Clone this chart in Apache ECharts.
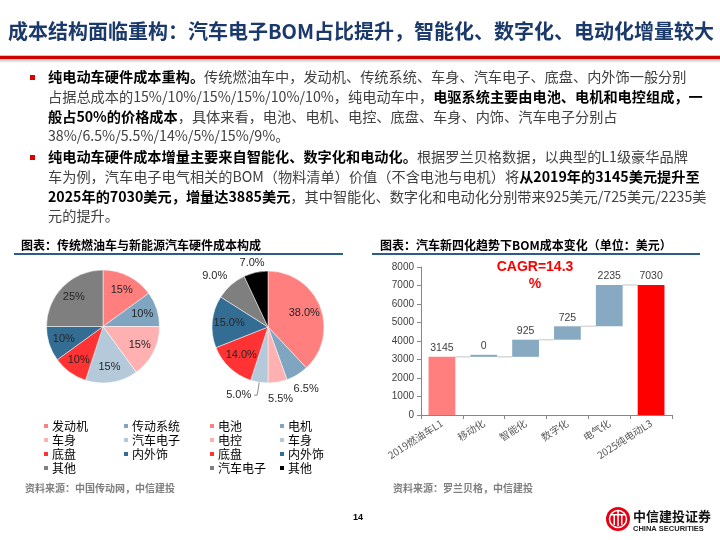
<!DOCTYPE html>
<html><head><meta charset="utf-8">
<script src="https://cdn.jsdelivr.net/npm/echarts@6/dist/echarts.min.js"></script>
<style>html,body{margin:0;padding:0;background:#fff}#c{width:720px;height:540px}</style>
</head><body><div id="c"></div>
<script>
// ---------- data ----------
const pageTitle = '成本结构面临重构：汽车电子BOM占比提升，智能化、数字化、电动化增量较大';
const pie1Names = ['发动机','传动系统','车身','汽车电子','底盘','内外饰','其他'];
const pie1Values = [15,10,15,15,10,10,25];
const pie2Names = ['电池','电机','电控','车身','底盘','内外饰','汽车电子','其他'];
const pie2Values = [38,6.5,5.5,5,14,15,9,7];
const wfCategories = ['2019燃油车L1','移动化','智能化','数字化','电气化','2025纯电动L3'];
const wfStart = 3145;
const wfIncrements = [0,925,725,2235];
const wfEnd = 7030;
const cagrText = 'CAGR=14.3';
const yMax = 8000, yInterval = 1000;

// ---------- styles ----------
const CJK = '"Noto Sans CJK SC", sans-serif';
const ARIAL = '"Liberation Sans", Arial, sans-serif';
const pie1Colors = ['#FF7F7F','#7FA5C1','#FFB1B1','#B4C9DA','#FF3333','#336D93','#7F7F7F'];
const pie2Colors = ['#FF7F7F','#7FA5C1','#FFB1B1','#B4C9DA','#FF3333','#336D93','#7F7F7F','#000000'];
const pie2LabelMode = ['in','ring','ring','lead','in','in','ring','ring'];
const ringLabelNudge = {6:{dx:-5, dy:4}, 7:{dx:0, dy:7}};

// ---------- waterfall derived stacks ----------
const wfBaseData = ['-'], wfIncData = ['-'], wfLevels = [wfStart];
let lvl = wfStart;
wfIncrements.forEach(v => { wfBaseData.push(lvl); wfIncData.push(v); lvl += v; wfLevels.push(lvl); });
wfBaseData.push('-'); wfIncData.push('-');
const wfTotalData = wfCategories.map((c,i) => i === 0 ? wfStart : (i === wfCategories.length-1 ? wfEnd : '-'));

const chart = echarts.init(document.getElementById('c'), null, {renderer:'canvas'});

function legendCol(left, names, colors, idx) {
  return {
    orient:'vertical', left:left, top:420, padding:0, itemWidth:6, itemHeight:6, itemGap:2,
    icon:'rect', selectedMode:false,
    textStyle:{fontSize:12, color:'#000', fontFamily:CJK, lineHeight:12, padding:[0,0,0,-2]},
    data: idx.map(i => ({name:names[i], itemStyle:{color:colors[i]}}))
  };
}

const labelBase = {color:'#262626', fontSize:11, fontFamily:ARIAL};

const bodyRich = {
  n:{fontSize:14.2, fontFamily:CJK, fill:'#404040'},
  b:{fontSize:14.2, fontFamily:CJK, fontWeight:'bold', fill:'#000'}
};
const bodyLines = [
  [77,'{b|纯电动车硬件成本重构。}{n|传统燃油车中，发动机、传统系统、车身、汽车电子、底盘、内外饰一般分别}'],
  [97,'{n|占据总成本的15%/10%/15%/15%/10%/10%，纯电动车中，}{b|电驱系统主要由电池、电机和电控组成，一}'],
  [117,'{b|般占50%的价格成本}{n|，具体来看，电池、电机、电控、底盘、车身、内饰、汽车电子分别占}'],
  [136,'{n|38%/6.5%/5.5%/14%/5%/15%/9%。}'],
  [157,'{b|纯电动车硬件成本增量主要来自智能化、数字化和电动化。}{n|根据罗兰贝格数据，以典型的L1级豪华品牌}'],
  [177,'{n|车为例，汽车电子电气相关的BOM（物料清单）价值（不含电池与电机）将}{b|从2019年的3145美元提升至}'],
  [197,'{b|2025年的7030美元，增量达3885美元}{n|，其中智能化、数字化和电动化分别带来925美元/725美元/2235美}'],
  [216,'{n|元的提升。}']
];

const graphics = [
  {type:'text', x:8, y:31, style:{text:pageTitle, font:'bold 20px '+CJK, fill:'#1B3A6B', verticalAlign:'middle', textVerticalAlign:'middle'}},
  {type:'rect', shape:{x:0, y:55, width:720, height:1}, style:{fill:'#C8C8C8'}},
  {type:'rect', shape:{x:0, y:56, width:720, height:3}, style:{fill:'#D00000'}},
  {type:'rect', shape:{x:0, y:59, width:720, height:4}, style:{fill:new echarts.graphic.LinearGradient(0,0,0,1,[{offset:0,color:'#BDBDBD'},{offset:1,color:'#FFFFFF'}])}},
  {type:'rect', shape:{x:30, y:75, width:5, height:5}, style:{fill:'#E00000'}},
  {type:'rect', shape:{x:30, y:155, width:5, height:5}, style:{fill:'#E00000'}},
  // section titles
  {type:'text', x:21, y:245, style:{text:'图表：传统燃油车与新能源汽车硬件成本构成', font:'bold 12px '+CJK, fill:'#000', verticalAlign:'middle', textVerticalAlign:'middle'}},
  {type:'rect', shape:{x:14, y:253, width:329, height:2}, style:{fill:'#2B5C8A'}},
  {type:'text', x:380, y:245, style:{text:'图表：汽车新四化趋势下BOM成本变化（单位：美元）', font:'bold 12px '+CJK, fill:'#000', verticalAlign:'middle', textVerticalAlign:'middle'}},
  {type:'rect', shape:{x:372, y:253, width:328, height:2}, style:{fill:'#2B5C8A'}},
  // CAGR
  {type:'text', x:535, y:267, style:{text:cagrText, font:'bold 14px '+ARIAL, fill:'#FF0000', align:'center', textAlign:'center', verticalAlign:'middle', textVerticalAlign:'middle'}},
  {type:'text', x:535, y:284, style:{text:'%', font:'bold 14px '+ARIAL, fill:'#FF0000', align:'center', textAlign:'center', verticalAlign:'middle', textVerticalAlign:'middle'}},
  // sources
  {type:'text', x:25, y:488, style:{text:'资料来源：中国传动网，中信建投', font:'bold 10px '+CJK, fill:'#7F7F7F', verticalAlign:'middle', textVerticalAlign:'middle'}},
  {type:'text', x:393, y:488, style:{text:'资料来源：罗兰贝格，中信建投', font:'bold 10px '+CJK, fill:'#7F7F7F', verticalAlign:'middle', textVerticalAlign:'middle'}},
  // page number
  {type:'text', x:358, y:518, style:{text:'14', font:'bold 9px '+ARIAL, fill:'#000', align:'center', textAlign:'center', verticalAlign:'middle', textVerticalAlign:'middle'}},
  // logo
  {type:'circle', shape:{cx:618, cy:519, r:12}, style:{fill:'#E60012'}},
  {type:'circle', shape:{cx:618, cy:519, r:8.5}, style:{fill:'none', stroke:'#fff', lineWidth:1.5}},
  {type:'rect', shape:{x:610, y:514, width:16, height:1.5}, style:{fill:'#fff'}},
  {type:'rect', shape:{x:613.5, y:514, width:1.5, height:11}, style:{fill:'#fff'}},
  {type:'rect', shape:{x:617.3, y:511, width:1.5, height:15}, style:{fill:'#fff'}},
  {type:'rect', shape:{x:621, y:514, width:1.5, height:11}, style:{fill:'#fff'}},
  {type:'text', x:633, y:516, style:{text:'中信建投证券', font:'bold 13px '+CJK, fill:'#111', verticalAlign:'middle', textVerticalAlign:'middle'}},
  {type:'text', x:633, y:529, style:{text:'CHINA SECURITIES', font:'bold 7.5px '+ARIAL, fill:'#222', verticalAlign:'middle', textVerticalAlign:'middle'}}
];
bodyLines.forEach(l => graphics.push({type:'text', x:48, y:l[0], style:{text:l[1], rich:bodyRich, verticalAlign:'middle', textVerticalAlign:'middle'}}));

const option = {
  backgroundColor:'#fff',
  animation:false,
  grid:{left:421, right:48, top:267, bottom:125, containLabel:false},
  xAxis:{type:'category', data:wfCategories,
    axisLine:{lineStyle:{color:'#868686', width:1}},
    axisTick:{show:true, alignWithLabel:false, length:4, lineStyle:{color:'#868686'}},
    axisLabel:{rotate:33, fontSize:10, color:'#595959', fontFamily:CJK, margin:7, interval:0}},
  yAxis:{type:'value', min:0, max:yMax, interval:yInterval,
    splitLine:{show:false},
    axisLine:{show:true, lineStyle:{color:'#868686'}},
    axisTick:{show:true, length:4, lineStyle:{color:'#868686'}},
    axisLabel:{fontSize:10, color:'#404040', fontFamily:ARIAL, margin:7, formatter:v => String(v)}},
  legend:[
    legendCol(42, pie1Names, pie1Colors, [0,2,4,6]),
    legendCol(122, pie1Names, pie1Colors, [1,3,5]),
    legendCol(208, pie2Names, pie2Colors, [0,2,4,6]),
    legendCol(278, pie2Names, pie2Colors, [1,3,5,7])
  ],
  graphic:{elements:graphics},
  series:[
    {type:'custom', silent:true, z:1, data:wfLevels.map((v,i)=>[i,v]),
      renderItem:(params, api) => {
        const i = api.value(0), v = api.value(1);
        const p1 = api.coord([i, v]), p2 = api.coord([i+1, v]);
        const hw = api.size([1,0])[0] * 0.32;
        return {type:'line', shape:{x1:p1[0]+hw, y1:p1[1], x2:p2[0]-hw, y2:p2[1]}, style:{stroke:'#D9D9D9', lineWidth:1.5}};
      }},
    {type:'bar', stack:'wf', data:wfBaseData, barWidth:'64%', barGap:'-100%', itemStyle:{color:'transparent'}, silent:true, z:2},
    {type:'bar', stack:'wf', data:wfIncData, barWidth:'64%', barGap:'-100%', barMinHeight:2, z:2,
      itemStyle:{color:'#87A9C1'},
      label:{show:true, position:'top', fontSize:10.5, color:'#404040', fontFamily:ARIAL, distance:3}},
    {type:'bar', data:wfTotalData.map((v,i)=>({value:v, itemStyle:{color: i===0 ? '#FF7F7F' : '#FF0000'}})),
      barWidth:'64%', barGap:'-100%', z:2,
      label:{show:true, position:'top', fontSize:10.5, color:'#404040', fontFamily:ARIAL, distance:3}},
    // pie 1
    {type:'pie', center:[103,326.5], radius:[0,56.5], startAngle:90, clockwise:true, silent:true,
      label:{show:false}, labelLine:{show:false},
      itemStyle:{borderColor:'#fff', borderWidth:0.5},
      data:pie1Names.map((n,i)=>({name:n, value:pie1Values[i], itemStyle:{color:pie1Colors[i]}}))},
    {type:'pie', center:[103,326.5], radius:[20,56.5], startAngle:90, clockwise:true, silent:true,
      legendHoverLink:false, itemStyle:{color:'rgba(0,0,0,0)'},
      label:Object.assign({show:true, position:'inside', formatter:'{c}%'}, labelBase), labelLine:{show:false},
      data:pie1Names.map((n,i)=>({name:n, value:pie1Values[i]}))},
    // pie 2
    {type:'pie', center:[268,327], radius:[0,56], startAngle:90, clockwise:true, silent:true,
      label:{show:false}, labelLine:{show:false},
      itemStyle:{borderColor:'#fff', borderWidth:0.5},
      data:pie2Names.map((n,i)=>({name:n, value:pie2Values[i], itemStyle:{color:pie2Colors[i]}}))},
    {type:'pie', center:[268,327], radius:[16,56], startAngle:90, clockwise:true, silent:true,
      avoidLabelOverlap:false, itemStyle:{color:'rgba(0,0,0,0)'},
      label:Object.assign({position:'inside', formatter:p=>p.value.toFixed(1)+'%'}, labelBase),
      labelLine:{show:false},
      data:pie2Names.map((n,i)=>{
        const m = pie2LabelMode[i];
        if (m === 'in') return {name:n, value:pie2Values[i], label:{show:true}};
        if (m === 'lead') return {name:n, value:pie2Values[i], label:{show:true, position:'outside', distanceToLabelLine:3},
          labelLine:{show:true, length:13, length2:3, lineStyle:{color:'#8C8C8C', width:1}}};
        return {name:n, value:pie2Values[i], label:{show:false}};
      })},
    {type:'pie', center:[268,327], radius:[56,84], startAngle:90, clockwise:true, silent:true,
      avoidLabelOverlap:false, itemStyle:{color:'rgba(0,0,0,0)'},
      label:Object.assign({position:'inside', formatter:p=>p.value.toFixed(1)+'%'}, labelBase),
      labelLine:{show:false},
      labelLayout:p => ringLabelNudge[p.dataIndex] || {},
      data:pie2Names.map((n,i)=>({name:n, value:pie2Values[i], label:{show:pie2LabelMode[i]==='ring'}}))}
  ]
};
chart.setOption(option);
</script></body></html>
